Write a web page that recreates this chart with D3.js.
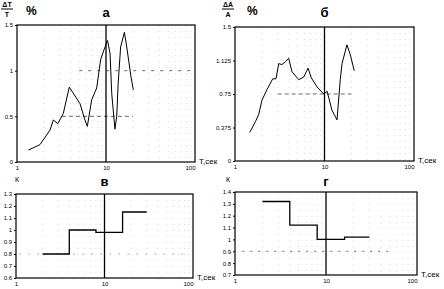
<!DOCTYPE html>
<html>
<head>
<meta charset="utf-8">
<script src="https://cdn.jsdelivr.net/npm/d3@7"></script>
<style>
  body { margin: 0; background: #fff; }
  svg { display: block; }
  text { font-family: "Liberation Sans", Arial, sans-serif; fill: #000; }
</style>
</head>
<body>
<svg id="chart" width="444" height="289"></svg>
<script>
// x axis (period, seconds, log)
const periodTicks = [1, 10, 100];
const periodLabels = ['1', '10', '100'];

// panel а: dT/T, %
const aPeriod = [1.34, 1.81, 2.35, 2.56, 2.87, 3.31, 3.87, 5.1, 5.8, 6.17, 6.9, 7.86, 8.7, 9.5, 10.4, 11.1, 11.6, 12.6, 13.2, 13.7, 14.6, 16.1, 17.1, 19.1, 20.3];
const aValue  = [0.13, 0.19, 0.35, 0.46, 0.42, 0.53, 0.82, 0.64, 0.46, 0.39, 0.68, 0.81, 1.12, 1.23, 1.33, 1.19, 0.75, 0.36, 0.5, 0.86, 1.26, 1.42, 1.26, 0.93, 0.79];
const aTicks = [0, 0.5, 1, 1.5];
const aTickLabels = ['0', '0.5', '1', '1.5'];

// panel б: dA/A, %
const bPeriod = [1.46, 1.69, 1.84, 2.0, 2.28, 2.64, 2.87, 3.08, 3.35, 3.65, 3.98, 4.33, 5.15, 5.86, 6.55, 7.13, 8.25, 9.8, 10.7, 12.1, 13.8, 15.0, 15.7, 17.8, 19.4, 21.5];
const bValue  = [0.32, 0.44, 0.52, 0.68, 0.80, 0.92, 0.92, 1.09, 1.08, 1.11, 1.15, 1.0, 0.91, 0.94, 1.04, 0.93, 0.83, 0.75, 0.78, 0.57, 0.46, 0.91, 1.09, 1.3, 1.19, 1.01];
const bTicks = [0, 0.375, 0.75, 1.125, 1.5];
const bTickLabels = ['0', '0.375', '0.75', '1.125', '1.5'];

// panel в: K, step
const vEdges  = [2, 4, 8, 16, 30];
const vValue  = [0.8, 1.0, 0.98, 1.15];
const vTicks = [0.6, 0.7, 0.8, 0.9, 1.0, 1.1, 1.2, 1.3];
const vTickLabels = ['0.6', '0.7', '0.8', '0.9', '1', '1.1', '1.2', '1.3'];

// panel г: K, step
const gEdges  = [2, 4, 8, 16, 30];
const gValue  = [1.32, 1.12, 1.0, 1.02];
const gTicks = [0.7, 0.8, 0.9, 1.0, 1.1, 1.2, 1.3, 1.4];
const gTickLabels = ['0.7', '0.8', '0.9', '1', '1.1', '1.2', '1.3', '1.4'];

const svg = d3.select('#chart');

function panel(opt) {
  const x = d3.scaleLog().domain([1, 100]).range([opt.x0, opt.x1]);
  const y = d3.scaleLinear().domain(opt.yDomain).range([opt.y1, opt.y0]);
  const g = svg.append('g');

  // faint guide lines from the scan
  (opt.guides || []).forEach(gd => {
    g.append('line')
      .attr('x1', x(gd.from)).attr('x2', x(gd.to))
      .attr('y1', y(gd.v)).attr('y2', y(gd.v))
      .attr('stroke', '#444').attr('stroke-width', 0.8)
      .attr('stroke-dasharray', gd.dash);
  });

  // dotted minor verticals
  [2, 3, 4, 5, 6, 7, 8, 9, 20, 30, 40, 50, 60, 70, 80, 90].forEach(t => {
    g.append('line')
      .attr('x1', x(t)).attr('x2', x(t))
      .attr('y1', opt.y0).attr('y2', opt.y1)
      .attr('stroke', '#bbb').attr('stroke-width', 0.6)
      .attr('stroke-dasharray', '1,5');
  });

  g.append('rect')
    .attr('x', opt.x0).attr('y', opt.y0)
    .attr('width', opt.x1 - opt.x0).attr('height', opt.y1 - opt.y0)
    .attr('fill', 'none').attr('stroke', '#000').attr('stroke-width', 1.2);

  // T = 10 line
  g.append('line')
    .attr('x1', x(10)).attr('x2', x(10))
    .attr('y1', opt.y0).attr('y2', opt.y1)
    .attr('stroke', '#000').attr('stroke-width', 1.3);

  const yAxis = g.append('g')
    .attr('transform', `translate(${opt.x0},0)`)
    .call(d3.axisLeft(y).tickValues(opt.yTicks)
      .tickFormat((d, i) => opt.yLabels[i]).tickSize(2).tickPadding(2));
  yAxis.select('.domain').remove();
  yAxis.selectAll('text').style('font-size', '6px');

  const xAxis = g.append('g')
    .attr('transform', `translate(0,${opt.y1})`)
    .call(d3.axisBottom(x).tickValues(periodTicks)
      .tickFormat((d, i) => periodLabels[i]).tickSize(0).tickPadding(4));
  xAxis.select('.domain').remove();
  xAxis.selectAll('text').style('font-size', '6px');
  xAxis.selectAll('text').filter(d => d === 100).attr('dx', -5);

  g.append('text')
    .attr('x', opt.x1 + 4).attr('y', opt.y1 + 2)
    .style('font-size', '8px').text('T,сек');

  g.append('text')
    .attr('x', x(10)).attr('y', opt.titleY)
    .attr('text-anchor', 'middle')
    .style('font-size', '13px').style('font-weight', 'bold')
    .text(opt.title);

  return { g, x, y };
}

function fraction(xc, top, bottom) {
  svg.append('text').attr('x', xc).attr('y', 7).attr('text-anchor', 'middle')
    .style('font-size', '7px').style('font-weight', 'bold').text(top);
  svg.append('line').attr('x1', xc - 6).attr('x2', xc + 6).attr('y1', 9).attr('y2', 9)
    .attr('stroke', '#000').attr('stroke-width', 1);
  svg.append('text').attr('x', xc).attr('y', 17).attr('text-anchor', 'middle')
    .style('font-size', '7px').style('font-weight', 'bold').text(bottom);
  svg.append('text').attr('x', xc + 19).attr('y', 15)
    .style('font-size', '12px').style('font-weight', 'bold').text('%');
}

// а
const pa = panel({ x0: 17, x1: 195, y0: 25, y1: 162, yDomain: [0, 1.5],
  yTicks: aTicks, yLabels: aTickLabels, title: 'а', titleY: 17,
  guides: [{ v: 0.5, from: 3.2, to: 20, dash: '4,3' }, { v: 1, from: 5, to: 100, dash: '3,6' }] });
pa.g.append('path')
  .datum(aPeriod.map((t, i) => [t, aValue[i]]))
  .attr('fill', 'none').attr('stroke', '#000').attr('stroke-width', 1)
  .attr('d', d3.line().x(d => pa.x(d[0])).y(d => pa.y(d[1])));
fraction(7, 'ΔT', 'T');

// б
const pb = panel({ x0: 235, x1: 414, y0: 27, y1: 161, yDomain: [0, 1.5],
  yTicks: bTicks, yLabels: bTickLabels, title: 'б', titleY: 17,
  guides: [{ v: 0.75, from: 3, to: 20, dash: '4,3' }] });
pb.g.append('path')
  .datum(bPeriod.map((t, i) => [t, bValue[i]]))
  .attr('fill', 'none').attr('stroke', '#000').attr('stroke-width', 1)
  .attr('d', d3.line().x(d => pb.x(d[0])).y(d => pb.y(d[1])));
fraction(228, 'ΔA', 'A');

// в
const pv = panel({ x0: 16, x1: 193, y0: 194, y1: 278, yDomain: [0.6, 1.3],
  yTicks: vTicks, yLabels: vTickLabels, title: 'в', titleY: 186,
  guides: [{ v: 0.8, from: 1.1, to: 90, dash: '1,8' }] });
pv.g.append('path')
  .datum(vEdges.map((t, i) => [t, vValue[Math.min(i, vValue.length - 1)]]))
  .attr('fill', 'none').attr('stroke', '#000').attr('stroke-width', 1.3)
  .attr('d', d3.line().curve(d3.curveStepAfter).x(d => pv.x(d[0])).y(d => pv.y(d[1])));
svg.append('text').attr('x', 15).attr('y', 182).style('font-size', '7px').text('К');

// г
const pg = panel({ x0: 235, x1: 417, y0: 192, y1: 275, yDomain: [0.7, 1.4],
  yTicks: gTicks, yLabels: gTickLabels, title: 'г', titleY: 186,
  guides: [{ v: 0.9, from: 1.2, to: 50, dash: '2,6' }] });
pg.g.append('path')
  .datum(gEdges.map((t, i) => [t, gValue[Math.min(i, gValue.length - 1)]]))
  .attr('fill', 'none').attr('stroke', '#000').attr('stroke-width', 1.3)
  .attr('d', d3.line().curve(d3.curveStepAfter).x(d => pg.x(d[0])).y(d => pg.y(d[1])));
svg.append('text').attr('x', 226).attr('y', 182).style('font-size', '7px').text('К');
</script>
</body>
</html>
